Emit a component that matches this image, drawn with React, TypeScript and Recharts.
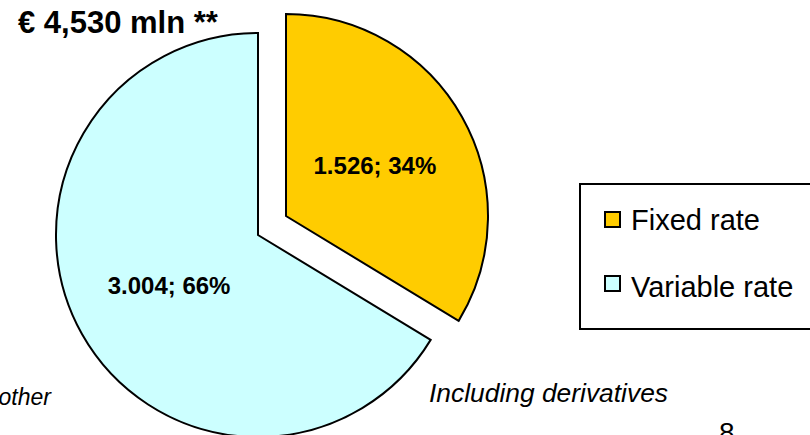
import React from 'react';
import { PieChart, Pie, Cell, Legend } from 'recharts';

const CATEGORIES = ['Fixed rate', 'Variable rate'];
const VALUES = [1526, 3004];
const COLORS = ['#FFCC00', '#CCFFFF'];
const TITLE_SUFFIX = ' mln **';
const NOTE_LEFT = 'other';
const NOTE_RIGHT = 'Including derivatives';
const PAGE_NUMBER = '8';

const FONT = 'Arial, "Liberation Sans", Helvetica, sans-serif';
const RAD = Math.PI / 180;

const data = CATEGORIES.map((name, i) => ({ name, value: VALUES[i] }));
const total = VALUES.reduce((a, b) => a + b, 0);
const titleText = '€ ' + total.toLocaleString('en-US') + TITLE_SUFFIX;

const makeLabel = (visibleIndex: number) => (props: any) => {
  const { cx, cy, midAngle, outerRadius, percent, value, index } = props;
  if (index !== visibleIndex) return null;
  const r = outerRadius * 0.505;
  const x = cx + r * Math.cos(-midAngle * RAD);
  const y = cy + r * Math.sin(-midAngle * RAD);
  const txt = (value / 1000).toFixed(3) + '; ' + Math.round(percent * 100) + '%';
  return (
    <text
      x={x}
      y={y}
      textAnchor="middle"
      dominantBaseline="central"
      fontFamily={FONT}
      fontWeight="bold"
      fontSize={24}
      fill="#000"
    >
      {txt}
    </text>
  );
};

const LegendBox = () => (
  <svg width={250} height={150} style={{ display: 'block' }}>
    <rect x={1} y={1} width={270} height={145} fill="#fff" stroke="#000" strokeWidth={2} />
    {CATEGORIES.map((name, i) => (
      <g key={name}>
        <rect x={26} y={29 + i * 64} width={15} height={15} fill={COLORS[i]} stroke="#000" strokeWidth={2} />
        <text x={52} y={47 + i * 67} fontFamily={FONT} fontSize={29} fill="#000">
          {name}
        </text>
      </g>
    ))}
  </svg>
);

export default function App() {
  return (
    <div
      style={{
        position: 'absolute',
        left: 0,
        top: 0,
        width: 810,
        height: 435,
        overflow: 'hidden',
        background: '#fff',
      }}
    >
      <PieChart width={810} height={435} margin={{ top: 0, right: 0, bottom: 0, left: 0 }}>
        <Pie
          data={data}
          dataKey="value"
          nameKey="name"
          cx={286}
          cy={216}
          outerRadius={202}
          startAngle={90}
          endAngle={-270}
          stroke="#000"
          strokeWidth={2}
          labelLine={false}
          label={makeLabel(0)}
          isAnimationActive={false}
        >
          {data.map((d, i) => (
            <Cell key={d.name} fill={i === 0 ? COLORS[0] : 'none'} stroke={i === 0 ? '#000' : 'none'} />
          ))}
        </Pie>
        <Pie
          data={data}
          dataKey="value"
          nameKey="name"
          cx={258}
          cy={235}
          outerRadius={202}
          startAngle={90}
          endAngle={-270}
          stroke="#000"
          strokeWidth={2}
          labelLine={false}
          label={makeLabel(1)}
          legendType="none"
          isAnimationActive={false}
        >
          {data.map((d, i) => (
            <Cell key={d.name} fill={i === 1 ? COLORS[1] : 'none'} stroke={i === 1 ? '#000' : 'none'} />
          ))}
        </Pie>
        <Legend
          content={() => <LegendBox />}
          wrapperStyle={{ left: 579, top: 183, width: 250, height: 150, bottom: 'auto', right: 'auto' }}
        />
      </PieChart>
      <svg
        width={810}
        height={435}
        style={{ position: 'absolute', left: 0, top: 0, pointerEvents: 'none' }}
      >
        <text x={18} y={33} fontFamily={FONT} fontWeight="bold" fontSize={31} fill="#000">
          {titleText}
        </text>
        <text x={51} y={405} textAnchor="end" fontFamily={FONT} fontStyle="italic" fontSize={23} fill="#000">
          {NOTE_LEFT}
        </text>
        <text
          x={429}
          y={402}
          fontFamily={FONT}
          fontStyle="italic"
          fontSize={25}
          fill="#000"
          textLength={239}
          lengthAdjust="spacingAndGlyphs"
        >
          {NOTE_RIGHT}
        </text>
        <text x={719} y={442} fontFamily={FONT} fontSize={28} fill="#000">
          {PAGE_NUMBER}
        </text>
      </svg>
    </div>
  );
}
